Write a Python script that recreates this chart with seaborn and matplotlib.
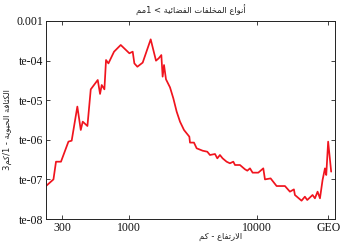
import matplotlib
matplotlib.use("Agg")
import matplotlib.pyplot as plt
import seaborn as sns
import pandas as pd
import numpy as np

# ---------------- data ----------------
altitude_km = [223, 255, 267, 292, 334, 354, 392, 417, 432, 470, 499, 566, 590, 608,
               638, 657, 686, 759, 856, 1000, 1062, 1094, 1155, 1271, 1468, 1615,
               1695, 1778, 1820, 1866, 1933, 2078, 2207, 2343, 2488, 2673, 2943,
               2978, 3199, 3357, 3741, 4066, 4266, 4670, 4870, 5105, 5358, 5754,
               6109, 6494, 6692, 7320, 8010, 8356, 8766, 9194, 10180, 11140, 11480,
               12710, 14160, 16450, 17990, 19330, 19680, 22180, 23550, 24580, 27040,
               28220, 29600, 30900, 32380, 33800, 34600, 35800, 37800]
density = [6.8e-8, 1.0e-7, 2.8e-7, 2.8e-7, 9.0e-7, 9.5e-7, 6.9e-6, 1.77e-6, 2.87e-6,
           2.23e-6, 1.88e-5, 3.24e-5, 1.44e-5, 2.42e-5, 1.88e-5, 1.035e-4, 8.5e-5,
           1.68e-4, 2.48e-4, 1.53e-4, 1.68e-4, 8.5e-5, 7.0e-5, 8.9e-5, 3.44e-4,
           9.96e-5, 1.14e-4, 1.38e-4, 3.93e-5, 7.74e-5, 3.37e-5, 2.11e-5, 1.11e-5,
           5.13e-6, 2.87e-6, 1.77e-6, 1.2e-6, 8.5e-7, 8.5e-7, 6.1e-7, 5.3e-7, 5.0e-7,
           4.13e-7, 4.38e-7, 3.4e-7, 4.13e-7, 3.4e-7, 2.8e-7, 2.55e-7, 2.8e-7,
           2.31e-7, 2.31e-7, 1.8e-7, 1.66e-7, 1.9e-7, 1.48e-7, 1.48e-7, 1.9e-7,
           1.0e-7, 1.06e-7, 6.8e-8, 6.8e-8, 4.9e-8, 5.6e-8, 4.04e-8, 2.9e-8, 3.66e-8,
           3.02e-8, 4.04e-8, 3.33e-8, 4.9e-8, 3.33e-8, 9.66e-8, 1.9e-7, 1.29e-7,
           9.0e-7, 1.57e-7]

x_ticks = [300, 1000, 10000, 35786]
x_tick_labels = ["300", "1000", "10000", "GEO"]
y_ticks = [1e-3, 1e-4, 1e-5, 1e-6, 1e-7, 1e-8]
y_tick_labels = ["0.001", "te-04", "te-05", "te-06", "te-07", "te-08"]

title_text = "أنواع المخلفات الفضائية > 1مم"
xlabel_text = "الارتفاع - كم"
ylabel_text = "الكثافة الحيوية - 1/كم3"

# ---------------- minimal Arabic shaping ----------------
FORMS = {
    'ا': ('\uFE8D', '\uFE8E', None, None),
    'أ': ('\uFE83', '\uFE84', None, None),
    'ة': ('\uFE93', '\uFE94', None, None),
    'و': ('\uFEED', '\uFEEE', None, None),
    'ر': ('\uFEAD', '\uFEAE', None, None),
    'ت': ('\uFE95', '\uFE96', '\uFE97', '\uFE98'),
    'ث': ('\uFE99', '\uFE9A', '\uFE9B', '\uFE9C'),
    'ح': ('\uFEA1', '\uFEA2', '\uFEA3', '\uFEA4'),
    'خ': ('\uFEA5', '\uFEA6', '\uFEA7', '\uFEA8'),
    'ض': ('\uFEBD', '\uFEBE', '\uFEBF', '\uFEC0'),
    'ع': ('\uFEC9', '\uFECA', '\uFECB', '\uFECC'),
    'ف': ('\uFED1', '\uFED2', '\uFED3', '\uFED4'),
    'ك': ('\uFED9', '\uFEDA', '\uFEDB', '\uFEDC'),
    'ل': ('\uFEDD', '\uFEDE', '\uFEDF', '\uFEE0'),
    'م': ('\uFEE1', '\uFEE2', '\uFEE3', '\uFEE4'),
    'ن': ('\uFEE5', '\uFEE6', '\uFEE7', '\uFEE8'),
    'ي': ('\uFEF1', '\uFEF2', '\uFEF3', '\uFEF4'),
    'ئ': ('\uFE89', '\uFE8A', '\uFE8B', '\uFE8C'),
    '\u0001': ('\uFEFB', '\uFEFC', None, None),   # lam-alef
    '\u0002': ('\uFEF7', '\uFEF8', None, None),   # lam-alef-hamza
}
MIRROR = {'<': '>', '>': '<', '(': ')', ')': '('}


def shape(s):
    s = s.replace('لا', '\u0001').replace('لأ', '\u0002')
    out = []
    for i, ch in enumerate(s):
        if ch not in FORMS:
            out.append(ch)
            continue
        prev = s[i - 1] if i > 0 else ''
        nxt = s[i + 1] if i + 1 < len(s) else ''
        jp = prev in FORMS and FORMS[prev][2] is not None
        jn = FORMS[ch][2] is not None and nxt in FORMS
        iso, fin, ini, med = FORMS[ch]
        if jp and jn:
            out.append(med)
        elif jp:
            out.append(fin)
        elif jn:
            out.append(ini)
        else:
            out.append(iso)
    vis = ''.join(MIRROR.get(c, c) for c in reversed(out))
    return vis


# ---------------- plot ----------------
sns.set_style("ticks")
plt.rcParams['font.family'] = ['Liberation Serif', 'DejaVu Sans']

df = pd.DataFrame({"alt": altitude_km, "dens": density})

fig = plt.figure(figsize=(3.46, 2.45), dpi=100)
ax = fig.add_axes([46 / 346, 26 / 245, 289 / 346, 198 / 245])

sns.lineplot(data=df, x="alt", y="dens", ax=ax, color="#f0141e", linewidth=1.25,
             estimator=None, sort=False)

ax.set_xscale("log")
ax.set_yscale("log")
ax.set_xlim(223, 40500)
ax.set_ylim(1e-8, 1e-3)
ax.set_xticks(x_ticks)
ax.set_xticklabels(x_tick_labels)
ax.set_yticks(y_ticks)
ax.set_yticklabels(y_tick_labels)
ax.minorticks_off()
ax.tick_params(axis="both", which="major", direction="in", length=3, width=0.6,
               labelsize=8.5, pad=2, top=True, right=True, colors="#222222",
               labelcolor="#111111")
for sp in ax.spines.values():
    sp.set_visible(True)
    sp.set_linewidth(0.7)
    sp.set_color("#222222")

arab = ['DejaVu Sans']
ax.set_title(shape(title_text), family=arab, fontsize=6, pad=6, color="#222222")
ax.set_xlabel(shape(xlabel_text), family=arab, fontsize=6, color="#222222")
ax.set_ylabel(shape(ylabel_text), family=arab, fontsize=6, color="#222222")
ax.xaxis.set_label_coords(0.605, -0.065)
ax.yaxis.set_label_coords(-0.118, 0.45)

fig.savefig("out.png", dpi=100)
